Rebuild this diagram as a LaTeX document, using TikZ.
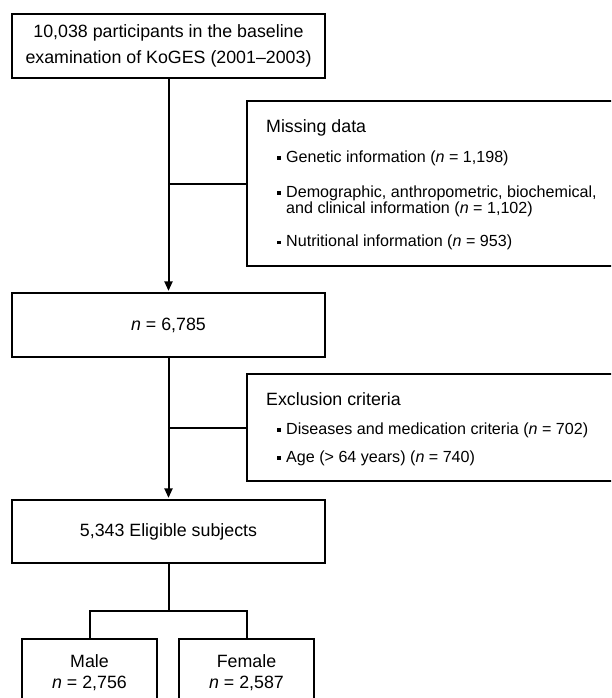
\documentclass[tikz,border=0pt]{standalone}
\usepackage{fontspec}
\setmainfont{Liberation Sans}
\usetikzlibrary{arrows.meta}
\newcommand{\bsq}{\rule[2.3pt]{3.6pt}{3.6pt}\hspace{5.4pt}}
\begin{document}
\begin{tikzpicture}[x=1pt,y=-1pt,
  boxline/.style={draw=black, line width=2.2pt, inner sep=0pt},
  mainbox/.style={boxline, minimum width=313pt, align=center,
    font=\fontsize{17.8}{26}\selectfont},
  sidebox/.style={boxline, minimum width=393pt},
  subbox/.style={boxline, minimum width=135pt, minimum height=110pt},
  sidetxt/.style={anchor=base west, inner sep=0pt,
    font=\fontsize{16.1}{16}\selectfont},
  sidetitle/.style={sidetxt, font=\fontsize{17.8}{18}\selectfont},
  subtxt/.style={align=center, inner sep=0pt,
    font=\fontsize{17.8}{21}\selectfont},
  conn/.style={draw=black, line width=2pt},
  arr/.style={conn, -{Triangle[length=9.5pt,width=8pt]}, shorten >=1pt}
]
\useasboundingbox (0,0) rectangle (611,698);
\clip (0,0) rectangle (611,698);

% main boxes
\node[mainbox, minimum height=64pt] (base) at (168.5,46)
  {10,038 participants in the baseline\\examination of KoGES (2001–2003)};
\node[mainbox, minimum height=64pt] (mid) at (168.5,325) {\textit{n} = 6,785};
\node[mainbox, minimum height=63pt] (elig) at (168.5,531.5) {5,343 Eligible subjects};

% side boxes
\node[sidebox, minimum height=165pt] (miss) at (443.5,183.5) {};
\node[sidetitle] (m0) at (266,132) {Missing data};
\node[sidetxt] (m1) at (277,162) {\bsq Genetic information (\textit{n} = 1,198)};
\node[sidetxt] (m2) at (277,197) {\bsq Demographic, anthropometric, biochemical,};
\node[sidetxt] (m2b) at (286,213) {and clinical information (\textit{n} = 1,102)};
\node[sidetxt] (m3) at (277,246.5) {\bsq Nutritional information (\textit{n} = 953)};

\node[sidebox, minimum height=107pt] (excl) at (443.5,427.5) {};
\node[sidetitle] (e0) at (266,405) {Exclusion criteria};
\node[sidetxt] (e1) at (277,434) {\bsq Diseases and medication criteria (\textit{n} = 702)};
\node[sidetxt] (e2) at (277,462) {\bsq Age (> 64 years) (\textit{n} = 740)};

% sub boxes
\node[subbox] (male) at (89.5,694) {};
\node[subtxt] (maletxt) at (89.5,673) {Male\\\textit{n} = 2,756};
\node[subbox] (female) at (246.5,694) {};
\node[subtxt] (femaletxt) at (246.5,673) {Female\\\textit{n} = 2,587};

% connectors
\draw[arr] (base.south) -- (mid.north);
\draw[conn] (base.south |- miss.west) -- (miss.west);
\draw[arr] (mid.south) -- (elig.north);
\draw[conn] (mid.south |- excl.west) -- (excl.west);
\draw[conn] (elig.south) -- ++(0,47) coordinate (split);
\draw[conn] (male.north) |- (split) -| (female.north);
\end{tikzpicture}
\end{document}
